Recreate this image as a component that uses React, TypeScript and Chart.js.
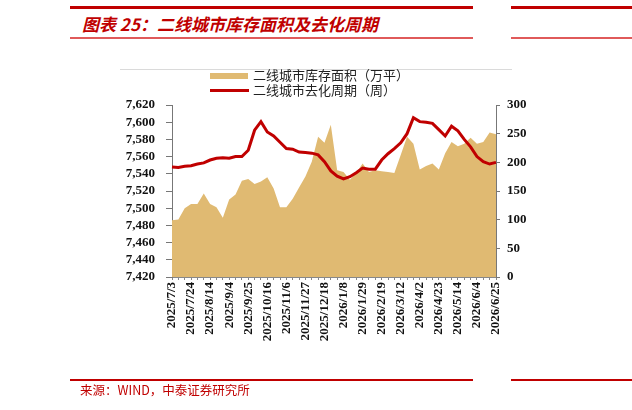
import React, { useEffect, useRef } from "react";
import { Chart, registerables } from "chart.js";

Chart.register(...registerables);

// weekly dates (52 weeks)
const dates: string[] = [
  "2025/7/3", "2025/7/10", "2025/7/17", "2025/7/24", "2025/7/31", "2025/8/7", "2025/8/14", "2025/8/21", "2025/8/28",
  "2025/9/4", "2025/9/11", "2025/9/18", "2025/9/25", "2025/10/2", "2025/10/9", "2025/10/16", "2025/10/23", "2025/10/30",
  "2025/11/6", "2025/11/13", "2025/11/20", "2025/11/27", "2025/12/4", "2025/12/11", "2025/12/18", "2025/12/25", "2026/1/1",
  "2026/1/8", "2026/1/15", "2026/1/22", "2026/1/29", "2026/2/5", "2026/2/12", "2026/2/19", "2026/2/26", "2026/3/5",
  "2026/3/12", "2026/3/19", "2026/3/26", "2026/4/2", "2026/4/9", "2026/4/16", "2026/4/23", "2026/4/30", "2026/5/7",
  "2026/5/14", "2026/5/21", "2026/5/28", "2026/6/4", "2026/6/11", "2026/6/18", "2026/6/25",
];

// 二线城市库存面积（万平） – left axis
const inventory: number[] = [
  7486, 7487, 7500, 7505, 7505, 7517, 7505, 7501, 7489,
  7510, 7516, 7532, 7534, 7528, 7531, 7536, 7523, 7501,
  7501, 7511, 7524, 7537, 7554, 7583, 7576, 7597, 7544,
  7542, 7533, 7541, 7552, 7542, 7544, 7543, 7542, 7541,
  7562, 7583, 7575, 7545, 7549, 7552, 7545, 7564, 7577,
  7572, 7575, 7582, 7575, 7577, 7588, 7586,
];

// 二线城市去化周期（周） – right axis
const cycle: number[] = [
  192, 191, 193, 194, 197, 199, 204, 207, 208,
  207, 210, 210, 221, 256, 271, 253, 246, 235,
  224, 223, 218, 217, 216, 213, 201, 185, 176,
  171, 175, 182, 190, 188, 188, 204, 215, 224,
  234, 250, 278, 271, 270, 268, 257, 246, 263,
  255, 240, 227, 210, 201, 197, 200,
];

const leftTicks = { min: 7420, max: 7620, step: 20 };
const rightTicks = { min: 0, max: 300, step: 50 };

const seriesNames = ["二线城市库存面积（万平）", "二线城市去化周期（周）"];
const titleText = "图表 25：二线城市库存面积及去化周期";
const sourceText = "来源：WIND，中泰证券研究所";

const RED = "#C00000";
const TAN = "#E0BA72";
const NUM_FONT = "'Liberation Serif', 'Times New Roman', serif";
const CJK_FONT = "'Noto Sans CJK SC', 'Noto Sans', sans-serif";

export default function App() {
  const ref = useRef<HTMLCanvasElement | null>(null);

  useEffect(() => {
    if (!ref.current) return;
    const chart = new Chart(ref.current, {
      type: "line",
      data: {
        labels: dates,
        datasets: [
          {
            label: seriesNames[1],
            data: cycle,
            yAxisID: "y1",
            borderColor: RED,
            borderWidth: 3,
            pointRadius: 0,
            fill: false,
            tension: 0,
            order: 0,
          },
          {
            label: seriesNames[0],
            data: inventory,
            yAxisID: "y",
            borderWidth: 0,
            borderColor: TAN,
            backgroundColor: TAN,
            pointRadius: 0,
            fill: "start",
            tension: 0,
            order: 1,
          },
        ],
      },
      options: {
        responsive: false,
        animation: false,
        devicePixelRatio: 1,
        layout: { padding: { top: 105, left: 0, right: 0, bottom: 0 } },
        plugins: { legend: { display: false }, tooltip: { enabled: false }, title: { display: false } },
        scales: {
          x: {
            type: "category",
            offset: false,
            grid: { display: true, drawOnChartArea: false, drawTicks: true, tickLength: 3, color: "#888" },
            border: { display: true, color: "#888", width: 1 },
            ticks: {
              autoSkip: false,
              maxRotation: 90,
              minRotation: 90,
              padding: 2,
              color: "#111",
              font: { family: NUM_FONT, size: 13, weight: "bold" },
              callback: (_v: any, i: number) => (i % 3 === 0 ? dates[i] : ""),
            },
            afterFit: (s: any) => {
              s.height = 133;
            },
          },
          y: {
            position: "left",
            min: leftTicks.min,
            max: leftTicks.max,
            grid: { display: true, drawOnChartArea: false, drawTicks: true, tickLength: 6, color: "#777" },
            border: { display: true, color: "#777", width: 1 },
            ticks: {
              stepSize: leftTicks.step,
              autoSkip: false,
              padding: 11,
              color: "#111",
              font: { family: NUM_FONT, size: 13, weight: "bold" },
              callback: (v: any) => Number(v).toLocaleString("en-US"),
            },
            afterFit: (s: any) => {
              s.width = 172;
            },
          },
          y1: {
            position: "right",
            min: rightTicks.min,
            max: rightTicks.max,
            grid: { display: true, drawOnChartArea: false, drawTicks: true, tickLength: 4, color: "#777" },
            border: { display: true, color: "#777", width: 1 },
            ticks: {
              stepSize: rightTicks.step,
              autoSkip: false,
              padding: 7,
              color: "#111",
              font: { family: NUM_FONT, size: 13, weight: "bold" },
            },
            afterFit: (s: any) => {
              s.width = 136;
            },
          },
        },
      },
    });
    return () => chart.destroy();
  }, []);

  const abs = (style: React.CSSProperties): React.CSSProperties => ({ position: "absolute", ...style });

  return (
    <div style={abs({ left: 0, top: 0, width: 632, height: 410, background: "#fff", overflow: "hidden" })}>
      {/* header lines */}
      <div style={abs({ left: 70, top: 6, width: 403, height: 3, background: RED })} />
      <div style={abs({ left: 511, top: 6, width: 121, height: 3, background: RED })} />
      <div style={abs({ left: 70, top: 37, width: 403, height: 1.5, background: "#E05A5A" })} />
      <div style={abs({ left: 511, top: 37, width: 121, height: 1.5, background: "#E05A5A" })} />
      <div
        style={abs({
          left: 82,
          top: 12,
          height: 24,
          lineHeight: "24px",
          fontFamily: CJK_FONT,
          fontSize: 17,
          fontWeight: "bold",
          fontStyle: "italic",
          color: RED,
          whiteSpace: "nowrap",
        })}
      >
        {titleText}
      </div>
      {/* chart frame top line */}
      <div style={abs({ left: 120, top: 69, width: 392, height: 1, background: "#DADADA" })} />
      <canvas ref={ref} width={632} height={410} style={abs({ left: 0, top: 0, width: 632, height: 410 })} />
      {/* legend */}
      <div style={abs({ left: 210, top: 73, width: 38, height: 6, background: TAN })} />
      <div style={abs({ left: 210, top: 89, width: 39, height: 3, background: RED })} />
      <div
        style={abs({
          left: 253,
          top: 67,
          lineHeight: "15px",
          fontFamily: CJK_FONT,
          fontSize: 13,
          color: "#222",
          whiteSpace: "nowrap",
        })}
      >
        <div style={{ height: 15 }}>{seriesNames[0]}</div>
        <div style={{ height: 15 }}>{seriesNames[1]}</div>
      </div>
      {/* source */}
      <div style={abs({ left: 70, top: 379, width: 403, height: 1.5, background: RED })} />
      <div style={abs({ left: 511, top: 379, width: 121, height: 1.5, background: RED })} />
      <div
        style={abs({
          left: 80,
          top: 382,
          lineHeight: "16px",
          fontFamily: CJK_FONT,
          fontSize: 12.5,
          color: RED,
          whiteSpace: "nowrap",
        })}
      >
        {sourceText}
      </div>
    </div>
  );
}
